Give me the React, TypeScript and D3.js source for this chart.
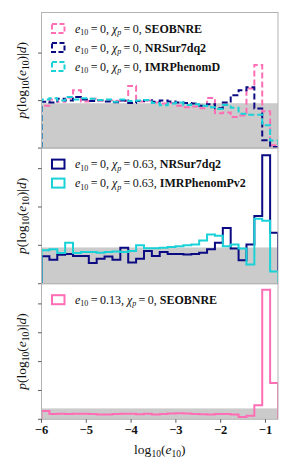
import { scaleLinear, line as d3line, range } from "d3";

// bins in log10(e10)
const X_MIN = -6;
const X_MAX = -0.72;
const N_BINS = 30;
const PRIOR = 0.189;
const X_TICKS = [-6, -5, -4, -3, -2, -1];

// panel 1: e10 = 0, chi_p = 0
const seobnreZero = [
  0.178, 0.205, 0.195, 0.212, 0.244, 0.196, 0.208, 0.2, 0.2, 0.199, 0.198, 0.262, 0.196, 0.2, 0.192,
  0.188, 0.19, 0.178, 0.172, 0.175, 0.168, 0.211, 0.147, 0.15, 0.131, 0.137, 0.251, 0.35, 0.155, 0.012,
];
const nrsurZero = [
  0.195, 0.192, 0.208, 0.2, 0.215, 0.205, 0.198, 0.202, 0.196, 0.193, 0.2, 0.19, 0.198, 0.202, 0.195,
  0.2, 0.196, 0.192, 0.19, 0.188, 0.178, 0.185, 0.168, 0.192, 0.223, 0.244, 0.256, 0.167, 0.033, 0.005,
];
const phenomDZero = [
  0.205, 0.21, 0.2, 0.215, 0.205, 0.21, 0.208, 0.203, 0.205, 0.195, 0.205, 0.198, 0.2, 0.203, 0.19,
  0.18, 0.188, 0.192, 0.182, 0.185, 0.178, 0.172, 0.165, 0.182, 0.17, 0.145, 0.14, 0.14, 0.096, 0.032,
];

// panel 2: e10 = 0, chi_p = 0.63
const nrsurPrec = [
  0.143, 0.125, 0.151, 0.155, 0.145, 0.145, 0.108, 0.13, 0.142, 0.125, 0.188, 0.11, 0.13, 0.17, 0.144,
  0.165, 0.155, 0.155, 0.152, 0.155, 0.162, 0.179, 0.214, 0.29, 0.183, 0.122, 0.205, 0.353, 0.67, 0.266,
];
const phenomPv2Prec = [
  0.174, 0.18, 0.16, 0.214, 0.16, 0.165, 0.165, 0.162, 0.165, 0.168, 0.165, 0.17, 0.2, 0.185, 0.185,
  0.188, 0.192, 0.195, 0.2, 0.205, 0.225, 0.256, 0.25, 0.195, 0.204, 0.183, 0.1, 0.338, 0.328, 0.064,
];

// panel 3: e10 = 0.13, chi_p = 0
const seobnreEcc = [
  0.144, 0.092, 0.098, 0.092, 0.095, 0.098, 0.09, 0.085, 0.085, 0.092, 0.098, 0.095, 0.088, 0.098, 0.082,
  0.09, 0.1, 0.104, 0.1, 0.094, 0.088, 0.085, 0.09, 0.092, 0.082, 0.038, 0.063, 0.245, 2.245, 0.63,
];

const PINK = "#ff6eb4";
const NAVY = "#0a0a82";
const CYAN = "#19d2d8";

const W = 291;
const H = 472;
const LEFT = 41.5;
const RIGHT = 278;
const TOPS = [12.5, 148.1, 283.7];
const PANEL_H = 135.6;

const SERIF = "'Liberation Serif', 'Times New Roman', serif";

interface Series {
  values: number[];
  color: string;
  dashed: boolean;
  e: string;
  chi: string;
  model: string;
}

interface Panel {
  yMax: number;
  yTicks: number[];
  series: Series[];
}

const panels: Panel[] = [
  {
    yMax: 0.571,
    yTicks: [0, 0.2, 0.4],
    series: [
      { values: seobnreZero, color: PINK, dashed: true, e: "0", chi: "0", model: "SEOBNRE" },
      { values: nrsurZero, color: NAVY, dashed: true, e: "0", chi: "0", model: "NRSur7dq2" },
      { values: phenomDZero, color: CYAN, dashed: true, e: "0", chi: "0", model: "IMRPhenomD" },
    ],
  },
  {
    yMax: 0.707,
    yTicks: [0, 0.2, 0.4, 0.6],
    series: [
      { values: nrsurPrec, color: NAVY, dashed: false, e: "0", chi: "0.63", model: "NRSur7dq2" },
      { values: phenomPv2Prec, color: CYAN, dashed: false, e: "0", chi: "0.63", model: "IMRPhenomPv2" },
    ],
  },
  {
    yMax: 2.35,
    yTicks: [0, 0.5, 1, 1.5, 2],
    series: [{ values: seobnreEcc, color: PINK, dashed: false, e: "0.13", chi: "0", model: "SEOBNRE" }],
  },
];

const x = scaleLinear().domain([X_MIN, X_MAX]).range([LEFT, RIGHT]);
const edges = range(N_BINS + 1).map((i) => X_MIN + (i * (X_MAX - X_MIN)) / N_BINS);

function stepPoints(values: number[]): [number, number][] {
  const pts: [number, number][] = [[edges[0], 0]];
  values.forEach((v, i) => {
    pts.push([edges[i], v]);
    pts.push([edges[i + 1], v]);
  });
  pts.push([edges[N_BINS], 0]);
  return pts;
}

function YLabel({ cx, cy }: { cx: number; cy: number }) {
  return (
    <text
      transform={`translate(${cx},${cy}) rotate(-90)`}
      textAnchor="middle"
      fontFamily={SERIF}
      fontSize={13.5}
      fill="#111"
    >
      <tspan fontStyle="italic">p</tspan>
      <tspan>(log</tspan>
      <tspan fontSize={9.5} dy={3}>10</tspan>
      <tspan dy={-3}>(</tspan>
      <tspan fontStyle="italic">e</tspan>
      <tspan fontSize={9.5} dy={3}>10</tspan>
      <tspan dy={-3}>)|</tspan>
      <tspan fontStyle="italic">d</tspan>
      <tspan>)</tspan>
    </text>
  );
}

function PanelView({ panel, idx }: { panel: Panel; idx: number }) {
  const top = TOPS[idx];
  const bottom = top + PANEL_H;
  const y = scaleLinear().domain([0, panel.yMax]).range([bottom, top]);
  const line = d3line<[number, number]>()
    .x((d) => x(d[0]))
    .y((d) => y(d[1]));
  const clipId = `clip-${idx}`;
  return (
    <g>
      <defs>
        <clipPath id={clipId}>
          <rect x={LEFT} y={top} width={RIGHT - LEFT} height={PANEL_H} />
        </clipPath>
      </defs>
      <g clipPath={`url(#${clipId})`}>
        <rect
          x={x(X_MIN)}
          y={y(PRIOR)}
          width={x(X_MAX) - x(X_MIN)}
          height={y(0) - y(PRIOR)}
          fill="#cbcbcb"
        />
        {panel.series.map((s, i) => (
          <path
            key={i}
            d={line(stepPoints(s.values)) ?? ""}
            fill="none"
            stroke={s.color}
            strokeWidth={2}
            strokeDasharray={s.dashed ? "6,3" : undefined}
          />
        ))}
      </g>
      <rect x={LEFT} y={top} width={RIGHT - LEFT} height={PANEL_H} fill="none" stroke="#b3b3b3" strokeWidth={1} />
      {panel.yTicks.map((t) => (
        <line key={t} x1={LEFT - 3.5} x2={LEFT} y1={y(t)} y2={y(t)} stroke="#333" strokeWidth={0.8} />
      ))}
      <YLabel cx={26} cy={(top + bottom) / 2} />
      {panel.series.map((s, i) => {
        const cy = top + 16 + i * 19;
        return (
          <g key={i}>
            <rect
              x={52}
              y={cy - 4.5}
              width={12.5}
              height={9}
              fill="none"
              stroke={s.color}
              strokeWidth={2}
              strokeDasharray={s.dashed ? "5,2.5" : undefined}
            />
            <text x={75} y={cy + 4} fontFamily={SERIF} fontSize={12} fill="#111">
              <tspan fontStyle="italic">e</tspan>
              <tspan fontSize={8} dy={2.5}>10</tspan>
              <tspan dy={-2.5}>{`\u2009=\u2009${s.e}, `}</tspan>
              <tspan fontStyle="italic">χ</tspan>
              <tspan fontSize={8} fontStyle="italic" dy={2.5}>p</tspan>
              <tspan dy={-2.5}>{`\u2009=\u2009${s.chi}, `}</tspan>
              <tspan fontWeight="bold">{s.model}</tspan>
            </text>
          </g>
        );
      })}
    </g>
  );
}

export default function App() {
  const bottom = TOPS[2] + PANEL_H;
  return (
    <div style={{ position: "fixed", left: 0, top: 0, width: W, height: H, background: "#fff" }}>
      <svg width={W} height={H} viewBox={`0 0 ${W} ${H}`}>
        <rect width={W} height={H} fill="#fff" />
        {panels.map((p, i) => (
          <PanelView key={i} panel={p} idx={i} />
        ))}
        {X_TICKS.map((t) => (
          <g key={t}>
            <line x1={x(t)} x2={x(t)} y1={bottom} y2={bottom + 3.5} stroke="#333" strokeWidth={0.8} />
            <text
              x={x(t)}
              y={bottom + 15}
              textAnchor="middle"
              fontFamily={SERIF}
              fontWeight="bold"
              fontSize={12.5}
              fill="#111"
            >
              {`\u2212${Math.abs(t)}`}
            </text>
          </g>
        ))}
        <text x={(LEFT + RIGHT) / 2} y={bottom + 35} textAnchor="middle" fontFamily={SERIF} fontSize={13.5} fill="#111">
          <tspan>log</tspan>
          <tspan fontSize={9.5} dy={3}>10</tspan>
          <tspan dy={-3}>(</tspan>
          <tspan fontStyle="italic">e</tspan>
          <tspan fontSize={9.5} dy={3}>10</tspan>
          <tspan dy={-3}>)</tspan>
        </text>
      </svg>
    </div>
  );
}
